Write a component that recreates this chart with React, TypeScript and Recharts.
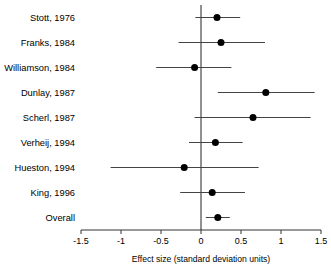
import { ScatterChart, Scatter, XAxis, YAxis, ErrorBar, ReferenceLine } from 'recharts';

// studies, top to bottom
const studies = [
  'Stott, 1976',
  'Franks, 1984',
  'Williamson, 1984',
  'Dunlay, 1987',
  'Scherl, 1987',
  'Verheij, 1994',
  'Hueston, 1994',
  'King, 1996',
  'Overall',
];
const estimates = [0.2, 0.25, -0.08, 0.81, 0.65, 0.18, -0.21, 0.14, 0.21];
const lower = [-0.07, -0.28, -0.56, 0.21, -0.08, -0.15, -1.13, -0.26, 0.06];
const upper = [0.49, 0.8, 0.38, 1.42, 1.37, 0.52, 0.72, 0.55, 0.36];
const xTicks = [-1.5, -1, -0.5, 0, 0.5, 1, 1.5];

const data = studies.map((name, i) => ({
  name,
  y: i,
  x: estimates[i],
  err: [estimates[i] - lower[i], upper[i] - estimates[i]],
}));

const font = '"Liberation Sans", Arial, sans-serif';

const Dot = (props: any) => <circle cx={props.cx} cy={props.cy} r={3.5} fill="#000" />;

// one-line study label (the default tick wraps long names)
const StudyTick = (props: any) => (
  <text
    x={props.x}
    y={props.y}
    textAnchor="end"
    dominantBaseline="central"
    fontSize={9.3}
    fill="#000"
    fontFamily={font}
  >
    {studies[props.payload.value]}
  </text>
);

export default function App() {
  return (
    <div style={{ position: 'absolute', left: 0, top: 0, background: '#fff' }}>
      <ScatterChart width={331} height={270} margin={{ top: 5, right: 10, left: 0, bottom: 0 }}>
        <XAxis
          type="number"
          dataKey="x"
          domain={[-1.5, 1.5]}
          ticks={xTicks}
          tickFormatter={(v: number) => String(v)}
          stroke="#333"
          tickSize={4}
          tickMargin={4}
          height={40}
          tick={{ fontSize: 9, fill: '#000', fontFamily: font }}
          label={{ value: 'Effect size (standard deviation units)', position: 'insideBottom', offset: 8, fontSize: 8.6, fill: '#000', fontFamily: font }}
        />
        <YAxis
          type="number"
          dataKey="y"
          domain={[-0.5, 8.5]}
          ticks={studies.map((_, i) => i)}
          reversed
          width={81}
          axisLine={false}
          tickLine={false}
          tickSize={0}
          tickMargin={6}
          tick={StudyTick}
        />
        <ReferenceLine x={0} stroke="#222" strokeWidth={1} />
        <Scatter data={data} shape={Dot} isAnimationActive={false}>
          <ErrorBar dataKey="err" direction="x" width={0} stroke="#444" strokeWidth={1} />
        </Scatter>
      </ScatterChart>
    </div>
  );
}
